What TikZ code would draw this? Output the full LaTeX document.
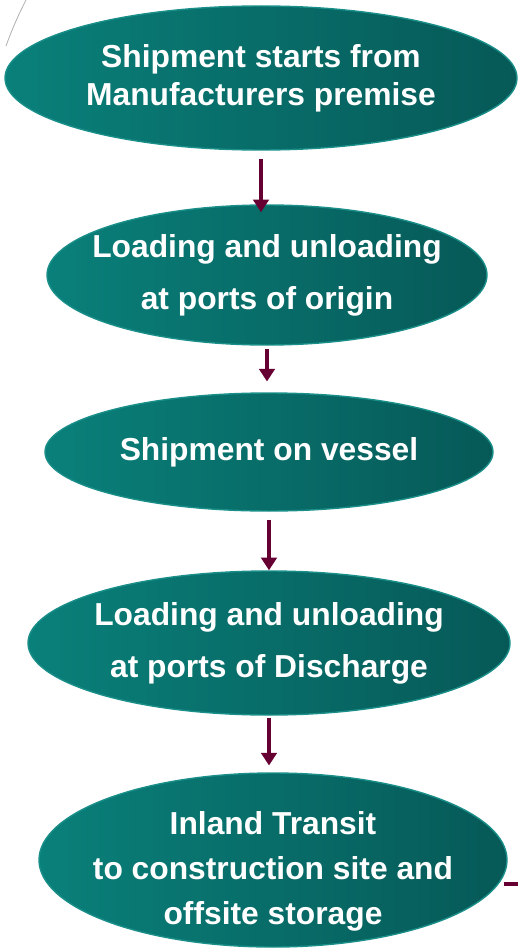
\documentclass[tikz,border=0pt]{standalone}
\usepackage{fontspec}
\setmainfont{Liberation Sans}
\usetikzlibrary{shapes.geometric,arrows.meta}

\definecolor{tealL}{HTML}{0A807A}
\definecolor{tealR}{HTML}{065957}
\definecolor{tealRim}{HTML}{1A8F89}
\definecolor{flowRed}{HTML}{660033}

\begin{document}
\begin{tikzpicture}[auto]
    \useasboundingbox (0,0) rectangle (12.95,-23.7);
    % faint background stroke
    \draw[black!30, line width=0.6pt] (0.15,-1.15) .. controls (0.35,-0.6) and (0.5,-0.3) .. (0.65,0);
    \begin{scope}[every node/.style={ellipse,draw=tealRim,line width=1pt,left color=tealL,right color=tealR,
        text=white,font=\fontsize{22.6}{27}\selectfont\bfseries,align=center,inner xsep=-1cm,inner ysep=-0.5cm}]
        \node[minimum width=12.8cm,minimum height=3.6cm] (A) at (6.525,-1.95) {Shipment starts from\\Manufacturers premise};
        \node[minimum width=11cm,minimum height=3.5cm,font=\fontsize{22.6}{37}\selectfont\bfseries] (B) at (6.675,-6.875) {Loading and unloading\\ at ports of origin};
        \node[minimum width=11.2cm,minimum height=2.95cm] (C) at (6.725,-11.3) {Shipment on vessel};
        \node[minimum width=12.05cm,minimum height=3.6cm,font=\fontsize{22.6}{37}\selectfont\bfseries] (D) at (6.725,-16.075) {Loading and unloading\\ at ports of Discharge};
        \node[minimum width=11.7cm,minimum height=4.35cm,font=\fontsize{22.6}{32}\selectfont\bfseries] (E) at (6.825,-21.5) {\\[0pt]Inland Transit\\to construction site and\\offsite storage};
    \end{scope}
    \coordinate (F) at (12.95,-22.1);
    \begin{scope}[every edge/.style={draw=flowRed,line width=2.2pt,-{Triangle[width=11pt,length=9pt]}}]
        \draw ([yshift=-2mm]A.south) edge ([yshift=-2mm]A.south |- B.north);
        \draw ([yshift=-0.8mm]B.south) edge ([yshift=2.7mm]B.south |- C.north);
        \draw ([yshift=-2mm]C.south) edge (C.south |- D.north);
        \draw ([yshift=-0.5mm]D.south) edge ([yshift=1.7mm]D.south |- E.north);
    \end{scope}
    \draw[flowRed,line width=2.2pt] (E.east |- F) ++(-0.1,0) -- (F);
\end{tikzpicture}
\end{document}
